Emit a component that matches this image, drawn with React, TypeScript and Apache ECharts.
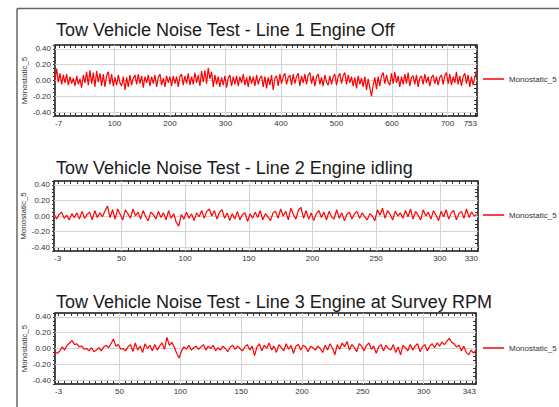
import React, { useEffect, useRef } from "react";
import * as echarts from "echarts";

const FONT = '"Liberation Sans", Arial, Helvetica, sans-serif';

const TITLES = [
  "Tow Vehicle Noise Test - Line 1 Engine Off",
  "Tow Vehicle Noise Test - Line 2 Engine idling",
  "Tow Vehicle Noise Test - Line 3 Engine at Survey RPM",
];
const SERIES_NAME = "Monostatic_5";

// x ranges
const X_MIN = [-7, -3, -3];
const X_MAX = [753, 330, 343];
const X_STEP = [3, 2, 2];

// tick labels
const X1_LABELS = [-7, 100, 200, 300, 400, 500, 600, 700, 753];
const X2_LABELS = [-3, 50, 100, 150, 200, 250, 300, 330];
const X3_LABELS = [-3, 50, 100, 150, 200, 250, 300, 343];
const X1_GRID = [100, 200, 300, 400, 500, 600, 700];
const X2_GRID = [50, 100, 150, 200, 250, 300];
const X3_GRID = [50, 100, 150, 200, 250, 300];
const Y_GRID = [-0.4, -0.2, 0, 0.2, 0.4];

// Line 1 samples (x = -7, -4, -1, ...)
const LINE1 = [
  0.0, 0.15, -0.02, 0.09, -0.05, 0.07, -0.03, 0.08, -0.06, 0.05,
  -0.04, 0.03, -0.07, 0.06, -0.05, 0.02, -0.09, 0.07, -0.03, 0.11,
  -0.06, 0.13, -0.04, 0.1, -0.08, 0.12, -0.02, 0.09, -0.07, 0.08,
  -0.08, 0.06, 0.11, -0.05, 0.08, -0.07, 0.04, -0.06, 0.07, -0.03,
  -0.07, 0.05, -0.12, 0.04, -0.08, 0.07, -0.06, 0.03, 0.07, -0.05,
  0.08, -0.04, 0.06, -0.09, 0.05, -0.03, 0.07, -0.07, 0.05, -0.04,
  0.07, -0.08, 0.04, 0.08, -0.06, 0.03, -0.08, 0.06, -0.03, 0.05,
  -0.07, 0.06, -0.04, 0.05, -0.08, 0.05, 0.08, -0.06, 0.06, -0.04,
  0.09, -0.06, 0.05, -0.05, 0.1, -0.03, 0.07, -0.07, 0.12, -0.02,
  0.13, -0.04, 0.16, 0.02, 0.11, -0.08, 0.07, -0.05, 0.05, -0.08,
  0.04, -0.06, 0.06, -0.09, 0.03, 0.07, -0.07, 0.05, -0.05, 0.06,
  -0.07, 0.05, -0.03, 0.08, -0.06, 0.04, -0.08, 0.06, -0.04, 0.05,
  -0.07, 0.07, -0.05, 0.03, 0.06, -0.08, 0.05, -0.1, 0.04, -0.06,
  0.07, -0.12, 0.03, 0.06, -0.07, 0.08, -0.04, 0.05, 0.09, -0.05,
  0.04, 0.07, -0.06, 0.08, -0.04, 0.05, 0.09, -0.07, 0.06, -0.03,
  0.08, -0.05, 0.07, 0.1, -0.04, 0.06, -0.07, 0.05, 0.08, -0.05,
  0.04, -0.07, 0.07, -0.02, -0.06, 0.06, -0.05, 0.05, 0.08, -0.06,
  0.05, 0.09, -0.04, 0.06, 0.1, -0.05, 0.07, -0.03, 0.05, -0.07,
  0.04, -0.1, 0.06, -0.05, 0.03, -0.08, 0.05, -0.12, 0.02, -0.09,
  -0.2, -0.06, 0.04, -0.11, 0.05, -0.07, 0.06, 0.1, -0.04, 0.07,
  -0.02, -0.06, 0.09, -0.04, 0.11, -0.03, 0.06, -0.08, 0.05, -0.05,
  0.08, -0.04, 0.1, -0.07, 0.04, 0.06, -0.05, 0.07, -0.08, 0.03,
  0.06, -0.05, 0.08, -0.03, 0.05, -0.07, 0.04, 0.07, -0.04, 0.05,
  -0.06, 0.04, 0.07, -0.05, 0.06, 0.1, -0.04, 0.08, -0.06, 0.05,
  -0.03, 0.11, -0.05, 0.06, -0.07, 0.05, 0.09, -0.04, 0.07, -0.08,
  0.05, -0.06, 0.04, 0.12,
];

// Line 2 samples (x = -3, -1, 1, ...)
const LINE2 = [
  0.03, -0.04, 0.02, 0.05, -0.03, 0.01, -0.05, 0.03, -0.02, 0.04,
  -0.04, 0.06, -0.03, 0.02, 0.05, -0.05, 0.07, -0.02, 0.04, -0.01,
  0.06, 0.13, -0.02, 0.08, -0.04, 0.09, 0.02, -0.05, 0.08, 0.03,
  -0.03, 0.09, 0.0, 0.05, -0.04, 0.07, -0.01, -0.06, 0.05, 0.02,
  -0.04, 0.06, -0.02, 0.04, -0.05, 0.07, -0.03, 0.03, -0.08, -0.13,
  0.02, -0.04, 0.05, -0.03, 0.03, -0.06, 0.04, -0.01, 0.07, -0.03,
  0.06, 0.09, 0.0, 0.07, -0.04, 0.05, 0.08, -0.03, 0.04, -0.06,
  0.03, -0.04, 0.06, -0.05, 0.02, 0.04, -0.07, 0.03, -0.03, 0.05,
  -0.02, 0.07, -0.05, 0.03, -0.01, -0.06, 0.04, 0.06, -0.03, 0.09,
  0.0, 0.06, -0.05, 0.1, 0.02, -0.04, 0.08, 0.11, -0.03, 0.07,
  -0.04, 0.04, -0.06, 0.03, 0.07, -0.02, 0.05, -0.05, 0.06, -0.01,
  -0.04, 0.08, -0.03, 0.04, -0.06, 0.02, 0.05, -0.04, 0.03, 0.06,
  -0.03, 0.04, -0.01, -0.05, 0.03, 0.0, -0.06, 0.08, 0.01, 0.1,
  -0.03, 0.07, 0.02, -0.05, 0.06, 0.0, 0.04, -0.03, 0.07, -0.01,
  0.09, -0.04, 0.06, 0.01, -0.05, 0.08, 0.0, 0.05, -0.04, 0.07,
  0.01, -0.06, 0.06, -0.01, 0.08, -0.04, 0.04, 0.07, -0.05, 0.03,
  0.06, -0.03, 0.09, -0.02, 0.05, 0.0, 0.02,
];

// Line 3 samples (x = -3, -1, 1, ...)
const LINE3 = [
  -0.05, -0.06, -0.03, 0.02, -0.02, 0.04, 0.07, 0.1, 0.05, 0.06,
  0.02, 0.03, -0.01, 0.0, -0.03, 0.01, -0.04, -0.02, 0.01, -0.03,
  0.02, 0.04, 0.01, 0.06, 0.12, 0.03, 0.05, -0.01, 0.0, -0.03,
  0.02, 0.05, -0.04, 0.07, -0.02, 0.03, -0.05, 0.06, 0.0, 0.04,
  -0.03, 0.05, -0.02, 0.03, 0.07, -0.01, 0.14, 0.04, 0.08, 0.02,
  -0.06, -0.12, -0.03, 0.02, -0.01, 0.04, -0.02, 0.01, 0.03, -0.01,
  0.02, 0.05, -0.02, 0.03, 0.0, 0.04, -0.03, 0.01, -0.02, 0.03,
  0.0, -0.04, 0.02, 0.04, -0.01, 0.03, 0.0, -0.03, 0.02, 0.05,
  -0.02, 0.03, -0.09, 0.02, 0.06, -0.03, 0.04, 0.0, 0.07, -0.02,
  0.03, -0.05, 0.05, 0.01, -0.03, 0.06, -0.01, 0.04, -0.06, 0.03,
  0.05, -0.02, 0.04, 0.02, -0.04, 0.03, 0.01, -0.02, 0.03, 0.0,
  -0.05, 0.04, -0.02, 0.06, 0.01, -0.08, 0.05, -0.01, 0.07, 0.02,
  0.09, -0.02, 0.05, 0.01, -0.04, 0.06, 0.03, -0.03, 0.04, 0.07,
  -0.01, 0.03, -0.06, 0.02, 0.05, -0.03, 0.04, 0.0, -0.02, 0.05,
  -0.05, 0.02, -0.08, 0.04, 0.01, -0.03, 0.05, -0.02, 0.03, 0.06,
  -0.04, 0.02, 0.05, -0.03, 0.03, 0.06, 0.01, 0.07, 0.03, 0.08,
  0.05, 0.09, 0.13, 0.08, 0.06, 0.02, 0.04, -0.03, 0.03, -0.05,
  -0.08, -0.02, -0.06, -0.02,
];

const LINES = [LINE1, LINE2, LINE3];
const LABELS = [X1_LABELS, X2_LABELS, X3_LABELS];
const XGRIDS = [X1_GRID, X2_GRID, X3_GRID];
const MINOR_X = [10, 5, 5];

// layout
const GRIDS = [
  { left: 55, top: 45, width: 422, height: 71 },
  { left: 54, top: 181, width: 424, height: 70 },
  { left: 55, top: 313, width: 421, height: 71 },
];
const TITLE_TOPS = [21, 159, 293];
const LEGEND_TOPS = [75, 211, 344];

const AXIS_COLOR = "#333";
const GRID_COLOR = "#d4d4d4";

function ticksFor(i: number) {
  const out: number[] = [X_MIN[i]];
  for (let v = 0; v < X_MAX[i]; v += MINOR_X[i]) if (v > X_MIN[i]) out.push(v);
  out.push(X_MAX[i]);
  return out;
}

export default function App() {
  const ref = useRef<HTMLDivElement>(null);
  useEffect(() => {
    if (!ref.current) return;
    const chart = echarts.init(ref.current, null, { renderer: "svg" });
    const xAxis: any[] = [];
    const yAxis: any[] = [];
    const series: any[] = [];
    GRIDS.forEach((_, i) => {
      const ticks = ticksFor(i);
      xAxis.push({
        type: "value",
        gridIndex: i,
        position: "bottom",
        min: X_MIN[i],
        max: X_MAX[i],
        axisLine: { show: true, onZero: false, lineStyle: { color: AXIS_COLOR, width: 1.5 } },
        axisTick: { show: true, inside: true, length: 3, customValues: ticks, lineStyle: { color: AXIS_COLOR } },
        axisLabel: {
          customValues: LABELS[i],
          fontSize: 8,
          color: AXIS_COLOR,
          margin: 3,
          fontFamily: FONT,
          alignMinLabel: "left",
          alignMaxLabel: "right",
        },
        splitLine: { show: false },
      });
      xAxis.push({
        type: "value",
        gridIndex: i,
        position: "top",
        min: X_MIN[i],
        max: X_MAX[i],
        axisLine: { show: true, onZero: false, lineStyle: { color: AXIS_COLOR, width: 1.5 } },
        axisTick: { show: true, inside: true, length: 3, customValues: ticks, lineStyle: { color: AXIS_COLOR } },
        axisLabel: { show: false },
        splitLine: { show: false },
      });
      yAxis.push({
        type: "value",
        gridIndex: i,
        position: "left",
        min: -0.45,
        max: 0.45,
        interval: 0.05,
        name: SERIES_NAME,
        nameLocation: "middle",
        nameRotate: 90,
        nameGap: 27,
        nameMoveOverlap: false,
        nameTextStyle: { fontSize: 8, color: AXIS_COLOR, fontFamily: FONT },
        axisLine: { show: true, onZero: false, lineStyle: { color: AXIS_COLOR, width: 1.5 } },
        axisTick: { show: true, inside: false, length: 2, lineStyle: { color: AXIS_COLOR } },
        axisLabel: {
          fontSize: 8,
          color: AXIS_COLOR,
          margin: 4,
          fontFamily: FONT,
          formatter: (v: number) => {
            const r = Math.round(v * 100);
            return r % 20 === 0 ? (r / 100).toFixed(2) : "";
          },
        },
        splitLine: { show: false },
      });
      yAxis.push({
        type: "value",
        gridIndex: i,
        position: "right",
        min: -0.45,
        max: 0.45,
        interval: 0.05,
        axisLine: { show: true, onZero: false, lineStyle: { color: AXIS_COLOR, width: 1.5 } },
        axisTick: { show: true, inside: true, length: 3, lineStyle: { color: AXIS_COLOR } },
        axisLabel: { show: false },
        splitLine: { show: false },
      });
      series.push({
        type: "line",
        name: "grid" + i,
        xAxisIndex: i * 2,
        yAxisIndex: i * 2,
        data: [],
        z: 1,
        silent: true,
        markLine: {
          silent: true,
          z: 1,
          symbol: ["none", "none"],
          label: { show: false },
          lineStyle: { color: GRID_COLOR, type: "solid", width: 1 },
          data: [
            ...XGRIDS[i].map((v) => ({ xAxis: v })),
            ...Y_GRID.map((v) => ({ yAxis: v })),
          ],
        },
      });
      series.push({
        type: "line",
        name: SERIES_NAME,
        xAxisIndex: i * 2,
        yAxisIndex: i * 2,
        data: LINES[i].map((y, k) => [X_MIN[i] + k * X_STEP[i], y]),
        symbol: "none",
        z: 3,
        lineStyle: { color: "#ff0000", width: 1.2 },
        itemStyle: { color: "#ff0000" },
      });
    });

    chart.setOption({
      animation: false,
      backgroundColor: "#ffffff",
      textStyle: { fontFamily: FONT },
      title: TITLES.map((t, i) => ({
        text: t,
        left: 56,
        top: TITLE_TOPS[i],
        padding: 0,
        textStyle: { fontSize: 18, fontWeight: "normal", color: "#1a1a1a", fontFamily: FONT },
      })),
      legend: GRIDS.map((_, i) => ({
        data: [SERIES_NAME],
        left: 483,
        top: LEGEND_TOPS[i],
        padding: 0,
        icon: "rect",
        itemWidth: 21,
        itemHeight: 1.5,
        selectedMode: false,
        textStyle: { fontSize: 8, color: AXIS_COLOR, fontFamily: FONT },
      })),
      grid: GRIDS.map((g) => ({
        ...g,
        show: true,
        backgroundColor: "#ffffff",
        borderColor: AXIS_COLOR,
        borderWidth: 1,
      })),
      xAxis,
      yAxis,
      series,
      graphic: [
        { type: "line", shape: { x1: 17, y1: 8.5, x2: 559, y2: 8.5 }, style: { stroke: "#666", lineWidth: 1.5 } },
        { type: "line", shape: { x1: 17, y1: 8.5, x2: 17, y2: 407 }, style: { stroke: "#666", lineWidth: 1.5 } },
      ],
    });
    return () => chart.dispose();
  }, []);
  return (
    <div
      ref={ref}
      style={{ position: "absolute", left: 0, top: 0, width: 559, height: 407, background: "#fff" }}
    />
  );
}
